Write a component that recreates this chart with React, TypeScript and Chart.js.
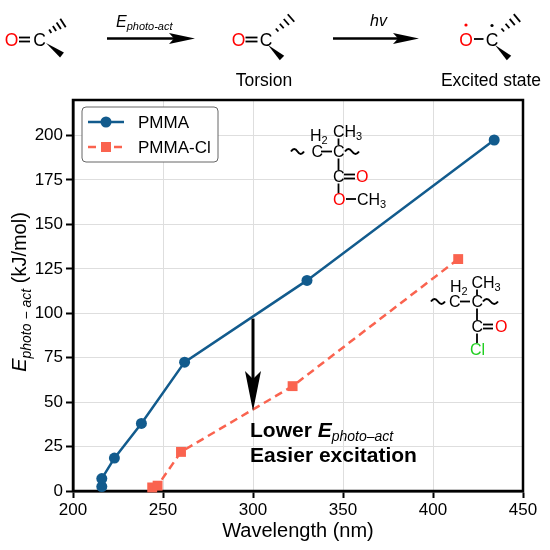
import { useEffect, useRef } from "react";
import { Chart, ChartConfiguration, registerables } from "chart.js";

Chart.register(...registerables);

// values
const PMMA_WAVELENGTH = [216, 216, 223, 238, 262, 330, 434];
const PMMA_ENERGY = [2.5, 7, 18.5, 38, 72.5, 118.5, 197.5];
const PMMACL_WAVELENGTH = [244, 247, 260, 322, 414];
const PMMACL_ENERGY = [2, 3, 22, 59, 130.5];
const X_TICKS = [200, 250, 300, 350, 400, 450];
const Y_TICKS = [0, 25, 50, 75, 100, 125, 150, 175, 200];
// annotation arrow: at 300 nm, from 97 down to 45 kJ/mol
const ARROW_X = 300;
const ARROW_FROM = 97;
const ARROW_TO = 45;

const BLUE = "#125b8d";
const CORAL = "#fa634f";
const FONT = "'Liberation Sans', Arial, sans-serif";

function hashLines(x1: number, y1: number, x2: number, y2: number, n: number, w: number) {
  const dx = x2 - x1;
  const dy = y2 - y1;
  const len = Math.hypot(dx, dy);
  const px = -dy / len;
  const py = dx / len;
  const out = [];
  for (let i = 1; i <= n; i++) {
    const t = i / n;
    const cx = x1 + dx * t;
    const cy = y1 + dy * t;
    const h = 1 + w * t;
    out.push(
      <line key={i} x1={cx - px * h} y1={cy - py * h} x2={cx + px * h} y2={cy + py * h} stroke="#000" strokeWidth={1.8} />
    );
  }
  return out;
}

function wedge(x1: number, y1: number, x2: number, y2: number, w: number) {
  const dx = x2 - x1;
  const dy = y2 - y1;
  const len = Math.hypot(dx, dy);
  const px = -dy / len;
  const py = dx / len;
  const pts = `${x1},${y1} ${x2 + px * w},${y2 + py * w} ${x2 - px * w},${y2 - py * w}`;
  return <polygon points={pts} fill="#000" />;
}

function wavy(x: number, y: number, w: number) {
  const d = `M ${x} ${y} Q ${x + w / 4} ${y - 5} ${x + w / 2} ${y} T ${x + w} ${y}`;
  return <path d={d} stroke="#000" strokeWidth={2} fill="none" />;
}

function schemeArrow(x1: number, x2: number, y: number) {
  const pts = `${x2},${y} ${x2 - 26},${y - 5.5} ${x2 - 21},${y} ${x2 - 26},${y + 5.5}`;
  return (
    <g>
      <line x1={x1} y1={y} x2={x2 - 18} y2={y} stroke="#000" strokeWidth={2.5} />
      <polygon points={pts} fill="#000" />
    </g>
  );
}

function dbl(x1: number, x2: number, y: number) {
  return (
    <g>
      <line x1={x1} y1={y - 2} x2={x2} y2={y - 2} stroke="#000" strokeWidth={1.8} />
      <line x1={x1} y1={y + 2} x2={x2} y2={y + 2} stroke="#000" strokeWidth={1.8} />
    </g>
  );
}

function vbond(x: number, y1: number, y2: number) {
  return <line x1={x} y1={y1} x2={x} y2={y2} stroke="#000" strokeWidth={1.8} />;
}

function hbond(x1: number, x2: number, y: number) {
  return <line x1={x1} y1={y} x2={x2} y2={y} stroke="#000" strokeWidth={1.8} />;
}

function Overlay() {
  return (
    <svg
      width={550}
      height={550}
      style={{ position: "absolute", left: 0, top: 0, pointerEvents: "none" }}
      fontFamily={FONT}
    >
      {/* reaction scheme */}
      <g fontSize={17.5}>
        <text x={11.5} y={46} textAnchor="middle" fill="#ff0000">O</text>
        {dbl(19, 30, 39.5)}
        <text x={39.5} y={46} textAnchor="middle">C</text>
        {hashLines(46, 34, 63, 23, 4, 4)}
        {wedge(46, 43, 62, 55, 3.2)}

        {schemeArrow(107, 195, 38.6)}
        <text x={116} y={27} fontStyle="italic">
          <tspan fontSize={16}>E</tspan>
          <tspan fontSize={11} dy={3}>photo-act</tspan>
        </text>

        <text x={238.5} y={46} textAnchor="middle" fill="#ff0000">O</text>
        {dbl(245.5, 257.5, 39.5)}
        <text x={266} y={46} textAnchor="middle">C</text>
        {hashLines(272.5, 34, 291, 18, 4, 4)}
        {wedge(268, 45, 282, 58, 3.2)}
        <text x={264} y={86} textAnchor="middle" fontSize={17.5}>Torsion</text>

        {schemeArrow(333, 419, 38.6)}
        <text x={378.5} y={26} textAnchor="middle" fontStyle="italic" fontSize={16}>hv</text>

        <text x={466} y={46} textAnchor="middle" fill="#ff0000">O</text>
        <circle cx={466} cy={25} r={1.6} fill="#ff0000" />
        {hbond(474, 483.5, 39)}
        <text x={492} y={46} textAnchor="middle">C</text>
        <circle cx={492} cy={25.5} r={1.6} fill="#000" />
        {hashLines(498, 34, 517, 18, 4, 4)}
        {wedge(495, 45, 509, 58, 3.2)}
        <text x={491} y={86} textAnchor="middle" fontSize={17.5}>Excited state</text>
      </g>

      {/* PMMA repeat unit */}
      <g fontSize={16}>
        <text x={310} y={141}>H<tspan fontSize={11} dy={3}>2</tspan></text>
        <text x={333} y={137}>CH<tspan fontSize={11} dy={3}>3</tspan></text>
        {wavy(291, 151.5, 13)}
        <text x={311.5} y={157}>C</text>
        {hbond(321, 332, 151.5)}
        <text x={333} y={157}>C</text>
        {wavy(345, 151.5, 14)}
        {vbond(338.5, 138.5, 145)}
        {vbond(338.5, 158.5, 170.5)}
        <text x={333} y={182}>C</text>
        {dbl(344, 355, 176.5)}
        <text x={356} y={182} fill="#ff0000">O</text>
        {vbond(338.5, 183.5, 193.5)}
        <text x={333} y={205} fill="#ff0000">O</text>
        {hbond(346, 356, 199)}
        <text x={357} y={205}>CH<tspan fontSize={11} dy={3}>3</tspan></text>
      </g>

      {/* PMMA-Cl repeat unit */}
      <g fontSize={16}>
        <text x={450} y={291.5}>H<tspan fontSize={11} dy={3}>2</tspan></text>
        <text x={471.5} y={288}>CH<tspan fontSize={11} dy={3}>3</tspan></text>
        {wavy(431, 301.5, 14)}
        <text x={449} y={307}>C</text>
        {hbond(460, 470, 301.5)}
        <text x={471.5} y={307}>C</text>
        {wavy(483, 301.5, 15)}
        {vbond(477, 289.5, 295.5)}
        {vbond(477, 308.5, 320.5)}
        <text x={471.5} y={332}>C</text>
        {dbl(483, 493, 326.5)}
        <text x={495} y={332} fill="#ff0000">O</text>
        {vbond(477, 333.5, 343)}
        <text x={470} y={355} fill="#1fcf1f">Cl</text>
      </g>

      {/* legend */}
      <rect x={82} y={107} width={136} height={55} rx={4} fill="#fff" stroke="#666" strokeWidth={1} />
      <line x1={88} y1={122} x2={124} y2={122} stroke={BLUE} strokeWidth={2.5} />
      <circle cx={106} cy={122} r={5.5} fill={BLUE} />
      <text x={138} y={128} fontSize={17}>PMMA</text>
      <line x1={88} y1={147} x2={124} y2={147} stroke={CORAL} strokeWidth={2.5} strokeDasharray="8 5" />
      <rect x={101} y={142} width={10} height={10} fill={CORAL} />
      <text x={138} y={153} fontSize={17}>PMMA-Cl</text>

      {/* annotation text */}
      <text x={250} y={437} fontSize={21} fontWeight="bold">
        Lower <tspan fontStyle="italic">E</tspan>
        <tspan fontStyle="italic" fontWeight="normal" fontSize={14} dy={4}>photo–act</tspan>
      </text>
      <text x={250} y={462} fontSize={21} fontWeight="bold">Easier excitation</text>

      {/* axis titles */}
      <text x={298} y={537} textAnchor="middle" fontSize={20}>Wavelength (nm)</text>
      <text transform="translate(26,292) rotate(-90)" textAnchor="middle" fontSize={20}>
        <tspan fontStyle="italic">E</tspan>
        <tspan fontStyle="italic" fontSize={14} dy={5}>photo − act</tspan>
        <tspan dy={-5}> (kJ/mol)</tspan>
      </text>
    </svg>
  );
}

export default function App() {
  const canvasRef = useRef<HTMLCanvasElement>(null);
  const chartRef = useRef<Chart | null>(null);

  useEffect(() => {
    if (!canvasRef.current) return;
    const ctx = canvasRef.current.getContext("2d");
    if (!ctx) return;

    if (chartRef.current) {
      chartRef.current.destroy();
    }

    const framePlugin = {
      id: "frame",
      beforeDatasetsDraw: (chart: Chart) => {
        const { ctx, chartArea } = chart;
        ctx.save();
        ctx.strokeStyle = "#000";
        ctx.lineWidth = 2.5;
        ctx.strokeRect(chartArea.left, chartArea.top, chartArea.right - chartArea.left, chartArea.bottom - chartArea.top);
        ctx.restore();
      },
      afterDatasetsDraw: (chart: Chart) => {
        const { ctx } = chart;
        const xs = chart.scales.x;
        const ys = chart.scales.y;
        const x = xs.getPixelForValue(ARROW_X);
        const y1 = ys.getPixelForValue(ARROW_FROM);
        const y2 = ys.getPixelForValue(ARROW_TO);
        ctx.save();
        ctx.strokeStyle = "#000";
        ctx.fillStyle = "#000";
        ctx.lineWidth = 3;
        ctx.beginPath();
        ctx.moveTo(x, y1);
        ctx.lineTo(x, y2 - 30);
        ctx.stroke();
        ctx.beginPath();
        ctx.moveTo(x, y2);
        ctx.lineTo(x - 8, y2 - 40);
        ctx.lineTo(x, y2 - 32);
        ctx.lineTo(x + 8, y2 - 40);
        ctx.closePath();
        ctx.fill();
        ctx.restore();
      },
    };

    const config: ChartConfiguration = {
      type: "line",
      data: {
        datasets: [
          {
            label: "PMMA",
            data: PMMA_WAVELENGTH.map((x, i) => ({ x, y: PMMA_ENERGY[i] })),
            borderColor: BLUE,
            backgroundColor: BLUE,
            borderWidth: 2.5,
            pointStyle: "circle",
            pointRadius: 5.5,
            pointBorderWidth: 0,
            clip: false,
          },
          {
            label: "PMMA-Cl",
            data: PMMACL_WAVELENGTH.map((x, i) => ({ x, y: PMMACL_ENERGY[i] })),
            borderColor: CORAL,
            backgroundColor: CORAL,
            borderWidth: 2.5,
            borderDash: [8, 5],
            pointStyle: "rect",
            pointRadius: 7,
            pointBorderWidth: 0,
            clip: false,
          },
        ],
      },
      options: {
        animation: false,
        responsive: true,
        maintainAspectRatio: false,
        layout: { padding: { left: 0, top: 100, right: 27, bottom: 0 } },
        scales: {
          x: {
            type: "linear",
            min: 200,
            max: 450,
            afterBuildTicks: (scale) => {
              scale.ticks = X_TICKS.map((value) => ({ value }));
            },
            afterFit: (scale) => {
              scale.height = 59;
            },
            grid: {
              color: "#dedede",
              borderDash: [2, 2],
              lineWidth: 1,
              tickLength: 7,
              tickColor: "#000",
              tickWidth: 2,
              tickBorderDash: [],
            },
            border: { color: "#000", width: 2.5 },
            ticks: {
              color: "#000",
              padding: 2,
              maxRotation: 0,
              font: { family: FONT, size: 17 },
            },
          },
          y: {
            type: "linear",
            min: 0,
            max: 220,
            afterBuildTicks: (scale) => {
              scale.ticks = Y_TICKS.map((value) => ({ value }));
            },
            afterFit: (scale) => {
              scale.width = 73;
            },
            grid: {
              color: "#dedede",
              borderDash: [2, 2],
              lineWidth: 1,
              tickLength: 7,
              tickColor: "#000",
              tickWidth: 2,
              tickBorderDash: [],
            },
            border: { color: "#000", width: 2.5 },
            ticks: {
              color: "#000",
              padding: 3,
              font: { family: FONT, size: 17 },
            },
          },
        },
        plugins: {
          legend: { display: false },
          tooltip: { enabled: false },
        },
      },
      plugins: [framePlugin],
    };

    chartRef.current = new Chart(ctx, config);

    return () => {
      if (chartRef.current) {
        chartRef.current.destroy();
      }
    };
  }, []);

  return (
    <div style={{ position: "absolute", left: 0, top: 0, width: 550, height: 550, background: "#fff" }}>
      <div style={{ position: "absolute", left: 0, top: 0, width: 550, height: 550 }}>
        <canvas ref={canvasRef}></canvas>
      </div>
      <Overlay />
    </div>
  );
}
